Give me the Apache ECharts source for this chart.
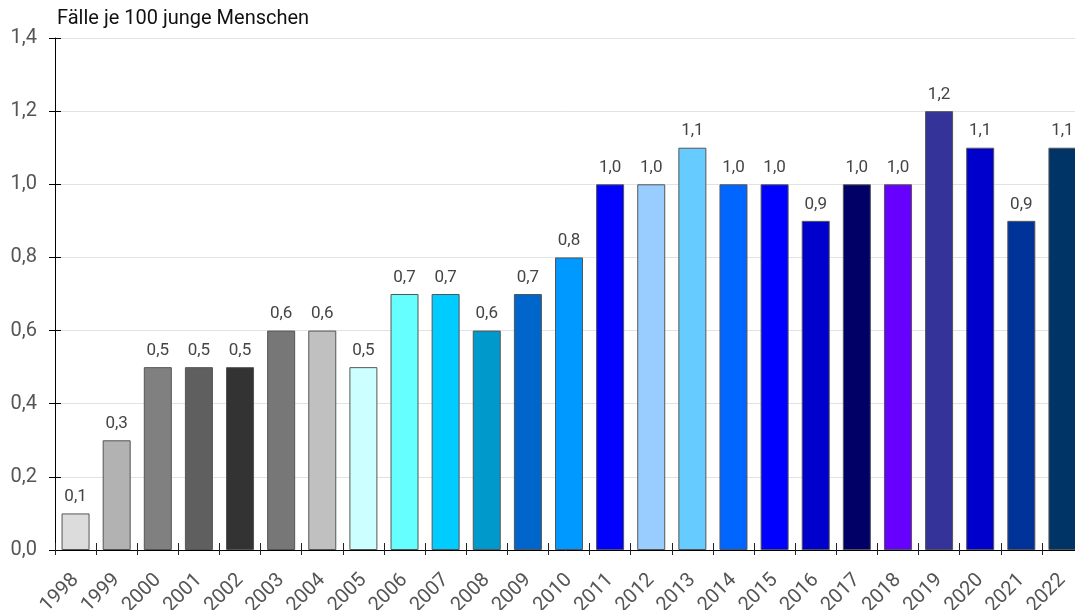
<!DOCTYPE html>
<html>
<head>
<meta charset="utf-8">
<script src="https://cdn.jsdelivr.net/npm/echarts@6/dist/echarts.min.js"></script>
<style>
  html, body { margin: 0; padding: 0; background: #fff; }
  #chart { width: 1075px; height: 610px; }
</style>
</head>
<body>
<div id="chart"></div>
<script>
const years = ['1998', '1999', '2000', '2001', '2002', '2003', '2004', '2005', '2006', '2007', '2008', '2009',
    '2010', '2011', '2012', '2013', '2014', '2015', '2016', '2017', '2018', '2019', '2020', '2021', '2022'];
const values = [0.1, 0.3, 0.5, 0.5, 0.5, 0.6, 0.6, 0.5, 0.7, 0.7, 0.6, 0.7,
    0.8, 1.0, 1.0, 1.1, 1.0, 1.0, 0.9, 1.0, 1.0, 1.2, 1.1, 0.9, 1.1];
const barColors = ['#dcdcdc', '#b2b2b2', '#808080', '#5f5f5f', '#333333', '#777777', '#c0c0c0', '#ccffff',
    '#66ffff', '#00ccff', '#0099cc', '#0066cc', '#0099ff', '#0000ff', '#99ccff', '#66ccff', '#0066ff',
    '#0000ff', '#0000cc', '#000066', '#6600ff', '#333399', '#0000cc', '#003399', '#003366'];
const yTicks = [0, 0.2, 0.4, 0.6, 0.8, 1.0, 1.2, 1.4];

const chart = echarts.init(document.getElementById('chart'));
const fmt = v => v.toFixed(1).replace('.', ',');

// ticks in the reference cross the axis line, so a second pair of axes draws the inner half
const option = {
    animation: false,
    textStyle: {fontFamily: 'Roboto'},
    title: {
        text: 'Fälle je 100 junge Menschen',
        left: 57, top: 9, padding: 0,
        textStyle: {fontSize: 20, fontWeight: 'normal', color: '#111', fontFamily: 'Roboto'}
    },
    grid: {left: 55, top: 38, width: 1028, height: 512, containLabel: false, outerBoundsMode: 'none'},
    xAxis: [{
        type: 'category',
        data: years,
        boundaryGap: true,
        axisLine: {lineStyle: {color: '#000', width: 1}},
        axisTick: {show: true, length: 5, lineStyle: {color: '#222'}},
        axisLabel: {rotate: 45, fontSize: 20, color: '#555', margin: 27, interval: 0}
    }, {
        type: 'category',
        data: years,
        position: 'bottom',
        boundaryGap: true,
        axisLine: {show: false},
        axisTick: {show: true, inside: true, length: 7, lineStyle: {color: '#222'}},
        axisLabel: {show: false}
    }],
    yAxis: [{
        type: 'value',
        min: yTicks[0], max: yTicks[yTicks.length - 1], interval: 0.2,
        axisLine: {show: true, lineStyle: {color: '#000'}},
        axisTick: {show: true, length: 6, lineStyle: {color: '#000'}},
        splitLine: {lineStyle: {color: '#e2e2e2'}},
        axisLabel: {fontSize: 20, color: '#555', margin: 18, formatter: fmt}
    }, {
        type: 'value',
        position: 'left',
        min: yTicks[0], max: yTicks[yTicks.length - 1], interval: 0.2,
        axisLine: {show: false},
        axisTick: {show: true, inside: true, length: 6, lineStyle: {color: '#000'}},
        splitLine: {show: false},
        axisLabel: {show: false}
    }],
    series: [{
        type: 'bar',
        barWidth: 28,
        z: 1,
        data: values.map((v, i) => ({
            value: v,
            itemStyle: {color: barColors[i], borderColor: '#555', borderWidth: 1}
        })),
        label: {
            show: true, position: 'top', distance: 8,
            fontSize: 17, color: '#444',
            formatter: p => fmt(p.value)
        }
    }]
};
chart.setOption(option);
</script>
</body>
</html>
